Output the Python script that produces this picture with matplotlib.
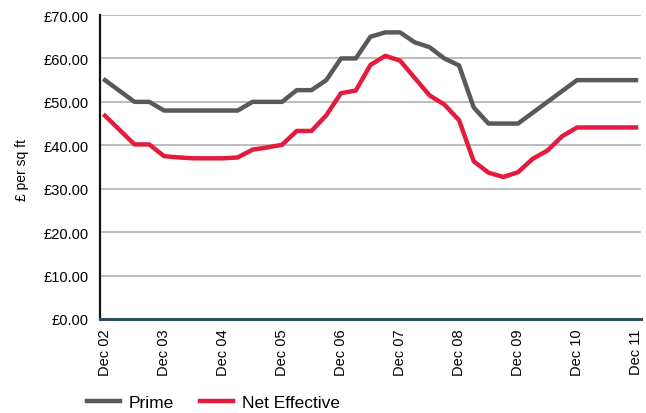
import matplotlib
matplotlib.use('Agg')
import numpy as np
import matplotlib.pyplot as plt
from matplotlib import font_manager

# quarterly rents, Dec 02 .. Dec 11
prime = [55.0, 52.5, 50.0, 50.0, 48.0, 48.0, 48.0, 48.0, 48.0, 48.0,
         50.0, 50.0, 50.0, 52.7, 52.7, 55.0, 60.0, 60.0, 65.0, 66.0,
         66.0, 63.7, 62.6, 60.0, 58.4, 48.7, 45.0, 45.0, 45.0, 47.5,
         50.0, 52.5, 55.0, 55.0, 55.0, 55.0, 55.0]
net_effective = [46.8, 43.5, 40.2, 40.2, 37.5, 37.2, 37.0, 37.0, 37.0, 37.2,
                 39.0, 39.5, 40.1, 43.3, 43.3, 46.9, 52.0, 52.6, 58.5, 60.6,
                 59.5, 55.5, 51.5, 49.4, 45.8, 36.3, 33.7, 32.7, 33.8, 36.9,
                 38.8, 42.1, 44.1, 44.1, 44.1, 44.1, 44.1]
year_labels = ['Dec 02', 'Dec 03', 'Dec 04', 'Dec 05', 'Dec 06',
               'Dec 07', 'Dec 08', 'Dec 09', 'Dec 10', 'Dec 11']
y_ticks = [0, 10, 20, 30, 40, 50, 60, 70]

names = [f.name for f in font_manager.fontManager.ttflist]
fam = 'Liberation Sans Narrow' if 'Liberation Sans Narrow' in names else 'Liberation Sans'
plt.rcParams['font.family'] = [fam, 'DejaVu Sans']

fig = plt.figure(figsize=(6.46, 4.14), dpi=100)
ax = fig.add_axes([100/646, 1 - 320/414, 541/646, 304/414])

x = np.arange(len(prime))
ax.plot(x, prime, color='#58595b', linewidth=3.2, label='Prime', solid_joinstyle='round')
ax.plot(x, net_effective, color='#e31b3c', linewidth=3.2, label='Net Effective', solid_joinstyle='round')

ax.set_xlim(-0.34, 36.34)
ax.set_ylim(0, 70)
ax.set_yticks(y_ticks)
ax.set_yticklabels([f'£{v:.2f}' for v in y_ticks], fontsize=10.5)
ax.set_xticks(x[::4])
ax.set_xticklabels(year_labels, rotation=90, fontsize=10.5)
ax.tick_params(length=0, pad=7)
ax.tick_params(axis='y', pad=8)

ax.grid(axis='y', color='#aaaaaa', linewidth=1.1)
ax.set_axisbelow(True)
for s in ['top', 'right']:
    ax.spines[s].set_visible(False)
ax.spines['left'].set_color('#111111')
ax.spines['left'].set_linewidth(1.6)
ax.spines['bottom'].set_color('#264e5e')
ax.spines['bottom'].set_linewidth(2.2)

fig.text(22/646, 1 - 170/414, '£ per sq ft', rotation=90, ha='center', va='center', fontsize=10)

fig.legend(loc='center left', bbox_to_anchor=(80/646, 1 - 403/414), ncol=2,
           frameon=False, fontsize=12.5, handlelength=1.9, handletextpad=0.5,
           columnspacing=1.5, borderaxespad=0)

fig.savefig('out.png', dpi=100)
